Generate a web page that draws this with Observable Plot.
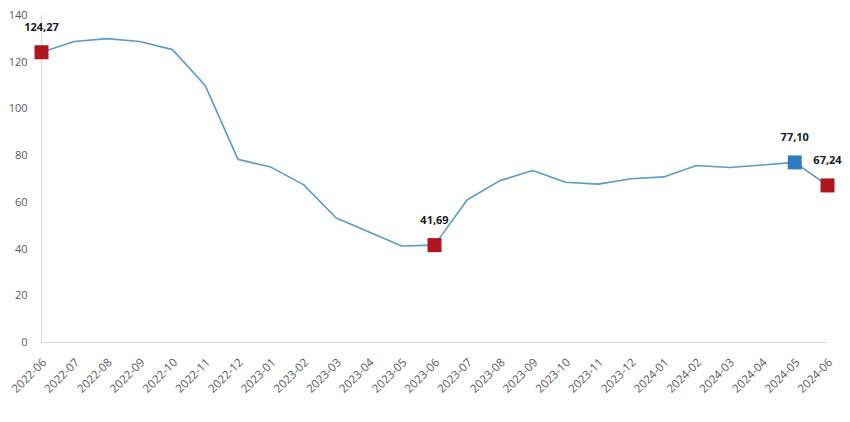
<!DOCTYPE html>
<html><head><meta charset="utf-8">
<script src="https://cdn.jsdelivr.net/npm/d3@7"></script>
<script src="https://cdn.jsdelivr.net/npm/@observablehq/plot@0.6"></script>
<style>body{margin:0;background:#fff}</style>
</head><body><div id="chart"></div>
<script>
const months = ["2022-06","2022-07","2022-08","2022-09","2022-10","2022-11","2022-12",
  "2023-01","2023-02","2023-03","2023-04","2023-05","2023-06","2023-07","2023-08","2023-09",
  "2023-10","2023-11","2023-12","2024-01","2024-02","2024-03","2024-04","2024-05","2024-06"];
const values = [124.27,128.9,130.1,128.9,125.4,110.0,78.4,
  75.1,67.6,53.3,47.3,41.3,41.69,61.1,69.3,73.6,
  68.6,67.8,70.1,70.9,75.8,74.9,76.0,77.10,67.24];
const highlightMonths = ["2022-06","2023-06","2024-05","2024-06"];
const highlightValues = [124.27,41.69,77.10,67.24];
const highlightLabels = ["124,27","41,69","77,10","67,24"];
const highlightColors = ["#b1161e","#b1161e","#2e7dbf","#b1161e"];
const yTicks = [0,20,40,60,80,100,120,140];

const data = months.map((m,i)=>({month:m, value:values[i]}));
const hl = highlightMonths.map((m,i)=>({month:m, value:highlightValues[i], label:highlightLabels[i], color:highlightColors[i]}));

const chart = Plot.plot({
  width: 850, height: 422,
  marginLeft: 41, marginRight: 23, marginTop: 15, marginBottom: 80,
  style: {fontFamily: "'Open Sans', sans-serif", fontSize: "11px", color: "#595959", background: "#fff"},
  x: {type: "point", domain: months, padding: 0, round: false, range: [41, 827], label: null},
  y: {domain: [0,140], range: [342, 15], label: null},
  color: {type: "identity"},
  marks: [
    Plot.ruleY([0], {stroke: "#d9d9d9", strokeWidth: 1}),
    Plot.ruleX([months[0]], {y1: 0, y2: 140, stroke: "#d9d9d9", strokeWidth: 1}),
    Plot.axisY({ticks: yTicks, tickSize: 0, tickPadding: 14, label: null, fontSize: 11, fill: "#595959"}),
    Plot.axisX({tickRotate: -45, tickSize: 0, tickPadding: 18, dx: 3, label: null, fontSize: 11.5, fill: "#595959"}),
    Plot.line(data, {x: "month", y: "value", stroke: "#5b9bc9", strokeWidth: 1.6}),
    Plot.dot(hl, {x: "month", y: "value", symbol: "square", r: 7.9, fill: "color"}),
    Plot.text(hl, {x: "month", y: "value", text: "label", dy: -25, fontWeight: "bold", fill: "#1a1a1a", fontSize: 11})
  ]
});
document.getElementById("chart").appendChild(chart);
</script>
</body></html>
